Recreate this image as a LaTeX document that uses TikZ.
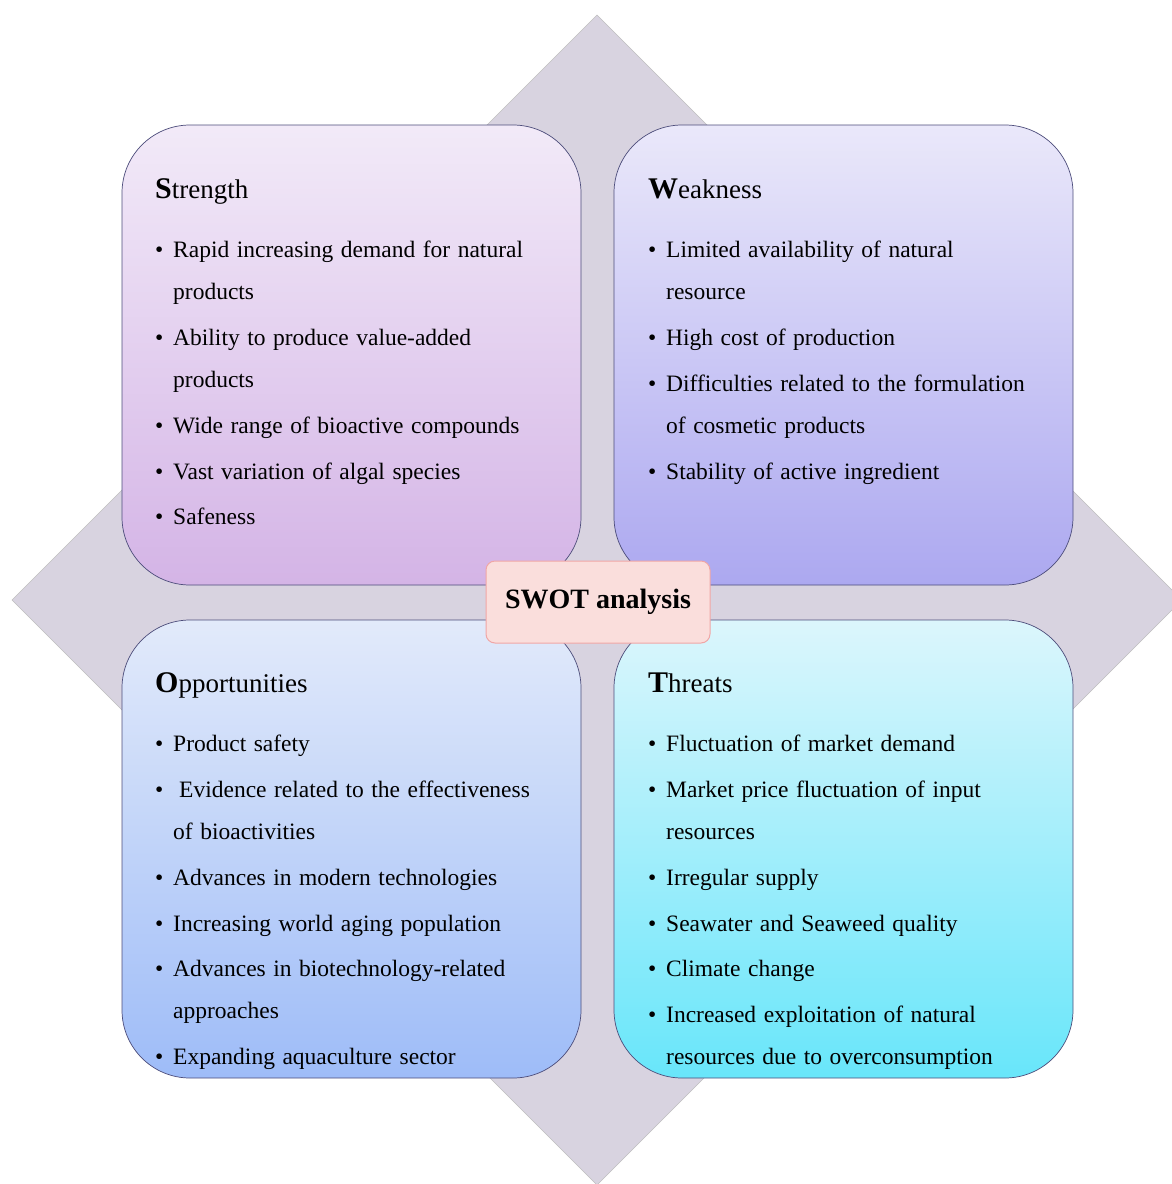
\documentclass[tikz,border=0pt]{standalone}
\usepackage{fontspec}
\setmainfont{Liberation Serif}
\newcommand\widesp{\spaceskip=0.32em\relax}
\begin{document}
\begin{tikzpicture}[x=1pt,y=-1pt,
  quad/.style={draw=black!55!blue!40!gray, line width=0.7pt, rounded corners=68pt},
  ttl/.style={anchor=mid west, inner sep=0pt, yshift=-6pt, font=\fontsize{27}{29}\selectfont},
  itm/.style={anchor=mid west, inner sep=0pt, yshift=-5pt, font=\fontsize{23.5}{26}\selectfont\widesp},
  bul/.style={anchor=mid west, inner sep=0pt, yshift=-5pt, font=\fontsize{23.5}{26}\selectfont}]
\useasboundingbox (0,0) rectangle (1171,1184);
\definecolor{dia}{HTML}{D8D3E0}
\fill[dia, draw=black!25] (597,15) -- (1182,600) -- (597,1185) -- (12,600) -- cycle;
% boxes
\shade[quad, top color={rgb,255:red,242;green,234;blue,248}, bottom color={rgb,255:red,212;green,180;blue,230}]
  (122,125) rectangle (581,585);
\shade[quad, top color={rgb,255:red,234;green,232;blue,250}, bottom color={rgb,255:red,172;green,168;blue,240}]
  (614,125) rectangle (1073,585);
\shade[quad, top color={rgb,255:red,226;green,234;blue,250}, bottom color={rgb,255:red,158;green,188;blue,248}]
  (122,620) rectangle (581,1078);
\shade[quad, top color={rgb,255:red,220;green,246;blue,252}, bottom color={rgb,255:red,104;green,230;blue,250}]
  (614,620) rectangle (1073,1078);
% centre
\node[draw={rgb,255:red,240;green,166;blue,166}, line width=1pt, fill={rgb,255:red,250;green,222;blue,220},
  rounded corners=9pt, minimum width=224pt, minimum height=82pt, font=\fontsize{28}{30}\selectfont\bfseries]
  (swot) at (598,602) {SWOT analysis};
% Strength
\node[ttl] (st) at (155,190) {{\fontsize{30}{30}\selectfont\bfseries S}trength};
\foreach \y/\t [count=\i] in {250/Rapid increasing demand for natural, 338/Ability to produce value-added, 426/Wide range of bioactive compounds, 472/Vast variation of algal species, 517/Safeness}
  { \node[bul] (sb\i) at (155,\y) {\textbullet}; \node[itm] (s\i) at (173,\y) {\t}; }
\node[itm] (s1b) at (173,292) {products};
\node[itm] (s2b) at (173,380) {products};
% Weakness
\node[ttl] (wt) at (648,190) {{\fontsize{30}{30}\selectfont\bfseries W}eakness};
\foreach \y/\t [count=\i] in {250/Limited availability of natural, 338/High cost of production, 384/Difficulties related to the formulation, 472/Stability of active ingredient}
  { \node[bul] (wb\i) at (648,\y) {\textbullet}; \node[itm] (w\i) at (666,\y) {\t}; }
\node[itm] (w1b) at (666,292) {resource};
\node[itm] (w3b) at (666,426) {of cosmetic products};
% Opportunities
\node[ttl] (ot) at (155,684) {{\fontsize{30}{30}\selectfont\bfseries O}pportunities};
\foreach \y/\t [count=\i] in {744/Product safety, 878/Advances in modern technologies, 924/Increasing world aging population, 969/Advances in biotechnology-related, 1057/Expanding aquaculture sector}
  { \node[bul] (ob\i) at (155,\y) {\textbullet}; \node[itm] (o\i) at (173,\y) {\t}; }
\node[bul] (obe) at (155,790) {\textbullet};
\node[itm] (oe) at (179,790) {Evidence related to the effectiveness};
\node[itm] (oeb) at (173,832) {of bioactivities};
\node[itm] (o4b) at (173,1011) {approaches};
% Threats
\node[ttl] (tt) at (648,684) {{\fontsize{30}{30}\selectfont\bfseries T}hreats};
\foreach \y/\t [count=\i] in {744/Fluctuation of market demand, 790/Market price fluctuation of input, 878/Irregular supply, 924/Seawater and Seaweed quality, 969/Climate change, 1015/Increased exploitation of natural}
  { \node[bul] (tb\i) at (648,\y) {\textbullet}; \node[itm] (t\i) at (666,\y) {\t}; }
\node[itm] (t2b) at (666,832) {resources};
\node[itm] (t6b) at (666,1057) {resources due to overconsumption};
\end{tikzpicture}
\end{document}
